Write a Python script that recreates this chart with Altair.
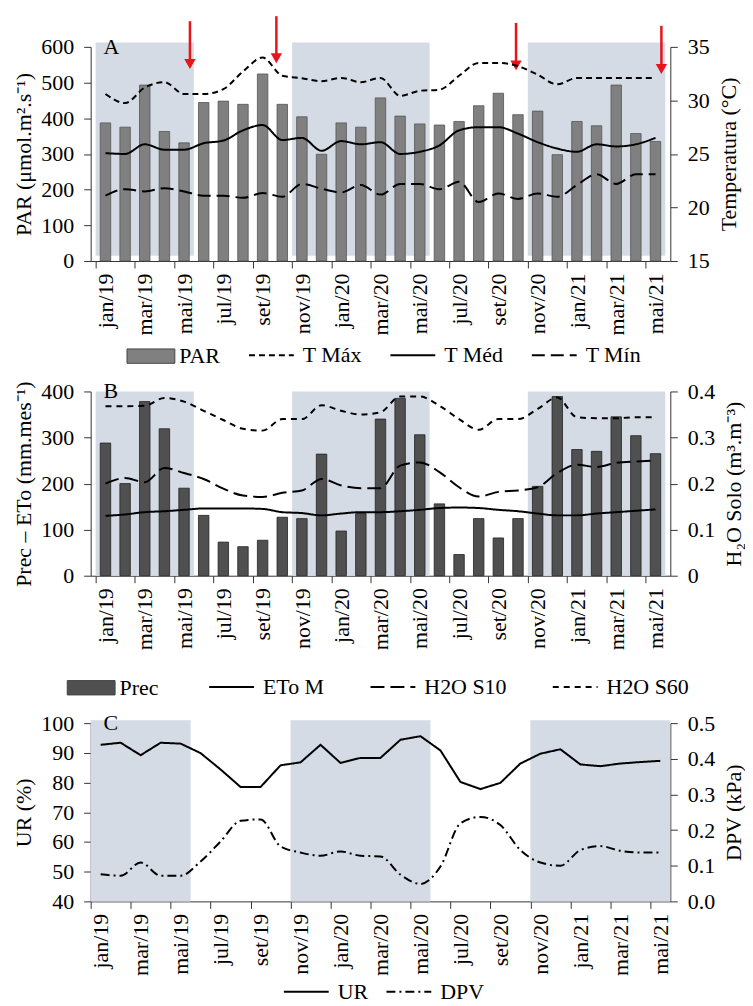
import altair as alt
import pandas as pd

months = ['jan/19','fev/19','mar/19','abr/19','mai/19','jun/19','jul/19','ago/19','set/19','out/19','nov/19','dez/19',
          'jan/20','fev/20','mar/20','abr/20','mai/20','jun/20','jul/20','ago/20','set/20','out/20','nov/20','dez/20',
          'jan/21','fev/21','mar/21','abr/21','mai/21']
tick_labels = months[::2]

par = [387,375,493,363,331,444,448,439,524,439,404,299,387,375,457,406,384,381,391,435,470,410,420,298,391,379,493,357,335]
tmax = [30.6,29.75,31.2,31.7,30.6,30.6,31.05,32.7,34.0,32.3,32.07,31.8,32.1,31.7,32.1,30.43,30.9,31.0,32.3,33.5,33.5,33.2,32.4,31.5,32.1,32.1,32.1,32.1,32.1]
tmed = [25.07,25.0,25.9,25.4,25.4,26.0,26.25,27.2,27.7,26.3,26.5,25.3,26.2,25.9,26.1,25.0,25.2,25.8,27.2,27.5,27.5,26.9,26.1,25.5,25.2,25.9,25.7,25.9,26.5]
tmin = [21.1,21.7,21.5,21.8,21.5,21.1,21.1,20.9,21.35,21.0,22.2,21.75,21.4,22.1,21.2,22.2,22.2,21.7,22.4,20.5,21.3,20.8,21.3,21.0,22.1,23.1,22.2,23.1,23.1]

prec = [288,200,378,319,190,131,73,63,77,127,124,264,97,135,340,385,306,156,46,124,82,124,194,389,274,270,345,304,265]
eto = [130,133,138,140,143,146,146,146,145,138,136,131,135,138,138,140,143,147,148,147,143,140,135,131,131,135,138,141,144]
s10 = [0.200,0.212,0.203,0.234,0.223,0.210,0.189,0.174,0.171,0.180,0.185,0.210,0.196,0.190,0.190,0.239,0.246,0.225,0.192,0.172,0.182,0.185,0.192,0.223,0.241,0.236,0.245,0.248,0.250]
s60 = [0.368,0.368,0.369,0.386,0.378,0.358,0.338,0.319,0.315,0.340,0.340,0.370,0.358,0.350,0.355,0.389,0.389,0.369,0.340,0.317,0.340,0.340,0.362,0.387,0.344,0.342,0.342,0.344,0.344]

ur = [92.7,93.4,89.2,93.4,93.1,89.9,84.4,78.5,78.5,85.8,86.8,92.7,86.6,88.3,88.3,94.4,95.6,90.8,80.2,77.8,79.9,86.4,89.7,91.2,86.1,85.5,86.4,86.9,87.3]
dpv = [0.076,0.072,0.109,0.072,0.072,0.112,0.168,0.226,0.230,0.154,0.137,0.128,0.140,0.128,0.126,0.075,0.049,0.098,0.219,0.237,0.214,0.144,0.109,0.100,0.144,0.155,0.142,0.137,0.137]

# shaded (rainy season) periods, in month index units
shade_start = [0.5, 10.5, 22.5]
shade_end = [5.5, 17.5, 29.5]

# red arrows in panel A (month index, PAR units)
arrow_x = [5.3, 9.7, 21.9, 29.3]
arrow_top = [672, 686, 667, 659]
arrow_tip = [552, 568, 548, 538]

FONT = 'Liberation Serif'
SHADE = '#d5dbe4'
FS = 22
W = 582
idx = list(range(1, len(months) + 1))

label_expr = "[" + ",".join("'%s'" % t for t in tick_labels) + "][round((datum.value - 0.5) / 2)]"
xaxis = alt.Axis(values=[0.5 + 2 * i for i in range(len(tick_labels))], labelExpr=label_expr,
                 labelAngle=270, labelOffset=10, labelFontSize=FS, labelPadding=5, tickSize=7,
                 title=None, grid=False, labelOverlap=False, labelFlush=False,
                 domainColor='#333', tickColor='#333', labelColor='black')
xscale = alt.Scale(domain=[0.5, 29.5], nice=False, zero=False)


def X(field='m'):
    return alt.X(field + ':Q', scale=xscale, axis=xaxis)


def yaxis(title, values, orient='left', fmt_expr=None):
    kw = dict(values=values, title=title, orient=orient, tickSize=7, labelPadding=10, labelFontSize=FS,
              titleFontSize=FS, titleFontWeight='normal', titleColor='black', labelColor='black',
              grid=False, domainColor='#333', tickColor='#333', titlePadding=5,
              labelOverlap=False, labelFlush=False)
    if orient == 'right':
        kw['titleAngle'] = 270
        kw['titleBaseline'] = 'top'
        kw['titlePadding'] = 9
        kw['labelPadding'] = 10
    if fmt_expr:
        kw['labelExpr'] = fmt_expr
    return alt.Axis(**kw)


def make_y(scale, axis):
    return lambda field: alt.Y(field + ':Q', scale=scale, axis=axis)


def shade_layer(Y, y0, y1):
    df = pd.DataFrame({'a': shade_start, 'b': shade_end, 'y0': [y0] * 3, 'y1': [y1] * 3})
    return alt.Chart(df).mark_rect(color=SHADE).encode(x=X('a'), x2='b:Q', y=Y('y0'), y2='y1:Q')


def panel_label(letter):
    return alt.Chart(pd.DataFrame({'t': [letter]})).mark_text(
        fontSize=FS, align='left', baseline='middle', font=FONT, color='black').encode(
        x=alt.value(13), y=alt.value(0), text='t:N')


def line_legend(lx, ly, colpad):
    return alt.Legend(title=None, orient='none', legendX=lx, legendY=ly, direction='horizontal',
                      symbolType='stroke', symbolSize=2025, symbolStrokeColor='black', symbolStrokeWidth=2,
                      labelFontSize=FS, labelColor='black', columnPadding=colpad, labelOffset=8, padding=0)


def bar_legend(lx, ly):
    return alt.Legend(title=None, orient='none', legendX=lx, legendY=ly, direction='horizontal',
                      symbolType='M-1,-0.3H1V0.3H-1Z', symbolSize=2304, symbolStrokeWidth=1,
                      symbolStrokeColor='#444', symbolOpacity=1, labelFontSize=FS, labelColor='black',
                      labelOffset=4, padding=0)


# ---------------- Panel A ----------------
dfA = pd.DataFrame({'m': idx, 'v': par, 's': ['PAR'] * len(idx)})
dfT = pd.DataFrame({'m': idx * 3, 'v': tmax + tmed + tmin,
                    'serie': ['T Máx'] * 29 + ['T Méd'] * 29 + ['T Mín'] * 29})
dfArrow = pd.DataFrame({'m': arrow_x, 'top': arrow_top, 'tip': arrow_tip})

YA = make_y(alt.Scale(domain=[0, 600], nice=False),
            yaxis('PAR (μmol.m².s⁻¹)', list(range(0, 601, 100))))
barsA = alt.Chart(dfA).mark_bar(size=10.5, stroke='#555', strokeWidth=0.8).encode(
    x=X(), y=YA('v'),
    color=alt.Color('s:N', scale=alt.Scale(domain=['PAR'], range=['#808080']), legend=bar_legend(36, 286)))
arrowRule = alt.Chart(dfArrow).mark_rule(color='#e8141a', strokeWidth=2.5).encode(
    x=X(), y=YA('top'), y2='tip:Q')
arrowHead = alt.Chart(dfArrow).mark_point(shape='triangle-down', filled=True, size=130, color='#e8141a', opacity=1).encode(
    x=X(), y=YA('tip'))
leftA = alt.layer(shade_layer(YA, 15, 612), barsA, arrowRule, arrowHead, panel_label('A'))
tempA = alt.Chart(dfT).mark_line(color='black', strokeWidth=2, interpolate='monotone').encode(
    x=X(),
    y=alt.Y('v:Q', scale=alt.Scale(domain=[15, 35], nice=False, zero=False),
            axis=yaxis('Temperatura (°C)', [15, 20, 25, 30, 35], orient='right')),
    strokeDash=alt.StrokeDash('serie:N', scale=alt.Scale(domain=['T Máx', 'T Méd', 'T Mín'],
                                                         range=[[6, 4], [1, 0], [13, 6]]),
                              legend=line_legend(158, 286, 24)))
panelA = alt.layer(leftA, tempA).resolve_scale(y='independent').properties(width=W, height=215)

# ---------------- Panel B ----------------
dfP = pd.DataFrame({'m': idx, 'v': prec, 's': ['Prec'] * len(idx)})
dfE = pd.DataFrame({'m': idx, 'v': eto, 'serie': ['ETo M'] * len(idx)})
dfH = pd.DataFrame({'m': idx * 2, 'v': s10 + s60, 'serie': ['H2O S10'] * 29 + ['H2O S60'] * 29})
dashB = alt.Scale(domain=['ETo M', 'H2O S10', 'H2O S60'], range=[[1, 0], [14, 6], [6, 5]])
YB = make_y(alt.Scale(domain=[0, 400], nice=False),
            yaxis('Prec – ETo (mm.mes⁻¹)', [0, 100, 200, 300, 400]))
barsB = alt.Chart(dfP).mark_bar(size=10.5, stroke='#222', strokeWidth=0.8).encode(
    x=X(), y=YB('v'),
    color=alt.Color('s:N', scale=alt.Scale(domain=['Prec'], range=['#505050']), legend=bar_legend(-24, 273)))
etoB = alt.Chart(dfE).mark_line(color='black', strokeWidth=2, interpolate='monotone').encode(
    x=X(), y=YB('v'), strokeDash=alt.StrokeDash('serie:N', scale=dashB, legend=line_legend(118, 273, 42)))
leftB = alt.layer(shade_layer(YB, 0, 400), barsB, etoB, panel_label('B'))
h2oB = alt.Chart(dfH).mark_line(color='black', strokeWidth=2, interpolate='monotone').encode(
    x=X(),
    y=alt.Y('v:Q', scale=alt.Scale(domain=[0, 0.4], nice=False),
            axis=yaxis('H₂O Solo (m³.m⁻³)', [0, 0.1, 0.2, 0.3, 0.4], orient='right',
                       fmt_expr="datum.value == 0 ? '0' : format(datum.value, '.1f')")),
    strokeDash=alt.StrokeDash('serie:N', scale=dashB, legend=line_legend(118, 273, 42)))
panelB = alt.layer(leftB, h2oB).resolve_scale(y='independent').properties(width=W, height=185)

# ---------------- Panel C ----------------
dfU = pd.DataFrame({'m': idx, 'v': ur, 'serie': ['UR'] * len(idx)})
dfD = pd.DataFrame({'m': idx, 'v': dpv, 'serie': ['DPV'] * len(idx)})
dashC = alt.Scale(domain=['UR', 'DPV'], range=[[1, 0], [9, 4, 2, 4]])
YC = make_y(alt.Scale(domain=[40, 100], nice=False, zero=False),
            yaxis('UR (%)', [40, 50, 60, 70, 80, 90, 100]))
urC = alt.Chart(dfU).mark_line(color='black', strokeWidth=2).encode(
    x=X(), y=YC('v'), strokeDash=alt.StrokeDash('serie:N', scale=dashC, legend=line_legend(193, 246, 14)))
leftC = alt.layer(shade_layer(YC, 40, 101), urC, panel_label('C'))
dpvC = alt.Chart(dfD).mark_line(color='black', strokeWidth=2, interpolate='monotone').encode(
    x=X(),
    y=alt.Y('v:Q', scale=alt.Scale(domain=[0, 0.5], nice=False),
            axis=yaxis('DPV (kPa)', [0, 0.1, 0.2, 0.3, 0.4, 0.5], orient='right',
                       fmt_expr="format(datum.value, '.1f')")),
    strokeDash=alt.StrokeDash('serie:N', scale=dashC, legend=line_legend(193, 246, 14)))
panelC = alt.layer(leftC, dpvC).resolve_scale(y='independent').properties(width=W, height=179)

chart = alt.vconcat(panelA, panelB, panelC, spacing=13).resolve_scale(
    color='independent', strokeDash='independent').resolve_legend(
    color='independent', strokeDash='independent').properties(
    padding={'left': 5, 'top': 4, 'right': 0, 'bottom': 0}).configure(
    font=FONT).configure_view(stroke=None).configure_axis(labelFont=FONT, titleFont=FONT).configure_legend(
    labelFont=FONT)

chart.save("out.html", embed_options={"renderer": "svg", "actions": False})
